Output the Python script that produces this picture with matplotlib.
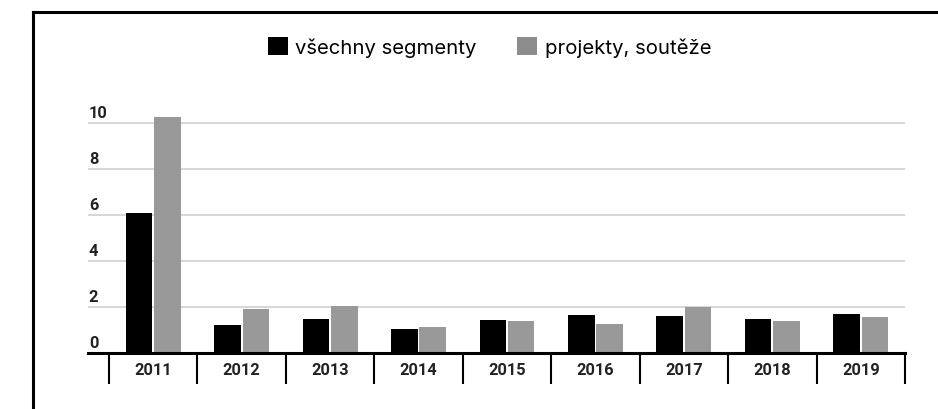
import matplotlib
matplotlib.use("Agg")
import matplotlib.pyplot as plt
from matplotlib.lines import Line2D
from matplotlib.patches import Patch
from matplotlib.transforms import blended_transform_factory
import numpy as np

years = ["2011", "2012", "2013", "2014", "2015", "2016", "2017", "2018", "2019"]
all_segments = [6.07, 1.2, 1.47, 1.03, 1.42, 1.64, 1.6, 1.47, 1.68]
projects = [10.23, 1.9, 2.03, 1.12, 1.38, 1.25, 1.99, 1.38, 1.55]
yticks = [0, 2, 4, 6, 8, 10]
series_names = ["všechny segmenty", "projekty, soutěže"]

W, H = 938, 410
fig = plt.figure(figsize=(W / 100, H / 100), dpi=100)

left_px, right_px = 88, 905
base_px, top_px = 353.7, 112.2
ax = fig.add_axes([left_px / W, (H - base_px) / H, (right_px - left_px) / W, (base_px - top_px) / H])

x = np.arange(len(years))
bw = 0.30
ax.bar(x - 0.16, all_segments, width=bw, color="#000000", zorder=3)
ax.bar(x + 0.16, projects, width=bw, color="#999999", zorder=3)

ax.set_xlim(-0.737, len(years) - 0.5)
ax.set_ylim(0, 10.5)

for v in yticks[1:]:
    ax.axhline(v, color="#cccccc", lw=1.1, zorder=1)
ax.axhline(0, color="#000000", lw=2.2, zorder=4, clip_on=False)

for s in ax.spines.values():
    s.set_visible(False)
ax.set_yticks([])

ax.set_xticks(x)
ax.set_xticklabels(years, fontfamily="Roboto", fontweight="bold", fontsize=11.8, color="#222222")
ax.tick_params(axis="x", which="major", length=0, pad=7)
ax.set_xticks(np.arange(len(years) + 1) - 0.5, minor=True)
ax.tick_params(axis="x", which="minor", length=22.3, width=1.5, color="#000000", direction="out")

trans = blended_transform_factory(ax.transAxes, ax.transData)
for v in yticks:
    ax.text(0.001, v + 0.13, str(v), transform=trans, ha="left", va="bottom",
            fontfamily="Roboto", fontweight="bold", fontsize=11.8, color="#222222")

handles = [Patch(facecolor="#000000"), Patch(facecolor="#8c8c8c")]
fig.legend(handles, series_names, loc="center", bbox_to_anchor=(489.5 / W, 1 - 48 / H),
           ncol=2, frameon=False, prop={"family": "Inter", "size": 14.6},
           handlelength=1.0, handleheight=1.0, handletextpad=0.35, columnspacing=2.0,
           labelcolor="#000000")

bx = 32.5 / W
by = 1 - 12.7 / H
fig.add_artist(Line2D([bx, 1], [by, by], transform=fig.transFigure, color="#000000", lw=2.2))
fig.add_artist(Line2D([bx, bx], [0, by], transform=fig.transFigure, color="#000000", lw=2.2))

fig.savefig("out.png", dpi=100)
